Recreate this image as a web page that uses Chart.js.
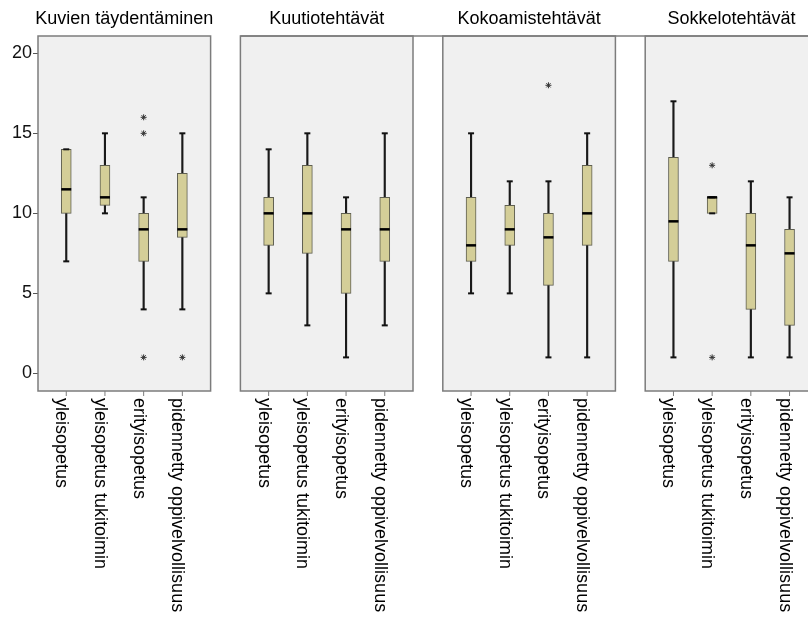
<!DOCTYPE html>
<html>
<head>
<meta charset="utf-8">
<script src="https://cdn.jsdelivr.net/npm/chart.js@4"></script>
<style>
  html, body { margin: 0; padding: 0; background: #ffffff; }
  #wrap { width: 808px; height: 619px; position: relative; }
</style>
</head>
<body>
<div id="wrap"><canvas id="c" width="808" height="619"></canvas></div>
<script>
// ---- data ----
const tasks = ['Kuvien täydentäminen', 'Kuutiotehtävät', 'Kokoamistehtävät', 'Sokkelotehtävät'];
const groups = ['yleisopetus', 'yleisopetus tukitoimin', 'erityisopetus', 'pidennetty oppivelvollisuus'];
const yTicks = [0, 5, 10, 15, 20];

// one row per task, one value per group
const mins    = [[7, 10, 4, 4], [5, 3, 1, 3], [5, 5, 1, 1], [1, 10, 1, 1]];
const q1s     = [[10, 10.5, 7, 8.5], [8, 7.5, 5, 7], [7, 8, 5.5, 8], [7, 10, 4, 3]];
const medians = [[11.5, 11, 9, 9], [10, 10, 9, 9], [8, 9, 8.5, 10], [9.5, 11, 8, 7.5]];
const q3s     = [[14, 13, 10, 12.5], [11, 13, 10, 11], [11, 10.5, 10, 13], [13.5, 11, 10, 9]];
const maxs    = [[14, 15, 11, 15], [14, 15, 11, 15], [15, 12, 12, 15], [17, 11, 12, 11]];
const outliers = [
  [[], [], [16, 15, 1], [1]],
  [[], [], [], []],
  [[], [], [18], []],
  [[], [13, 1], [], []]
];

// ---- layout constants (in x-axis slot units) ----
const PITCH = 5.23;   // distance between panels
const EDGE = 0.73;    // panel margin beyond outer boxes
const X_MIN = -EDGE;
const X_MAX = -EDGE + 770 / 38.7;

const pos = (p, i) => p * PITCH + i;

const boxData = [], whiskerData = [], medianData = [], capData = [], outlierData = [];
tasks.forEach((t, p) => {
  groups.forEach((g, i) => {
    const x = pos(p, i);
    boxData.push({ x, y: [q1s[p][i], q3s[p][i]] });
    whiskerData.push({ x, y: [mins[p][i], maxs[p][i]] });
    medianData.push({ x, y: medians[p][i] });
    capData.push({ x, y: mins[p][i] });
    capData.push({ x, y: maxs[p][i] });
    outliers[p][i].forEach(v => outlierData.push({ x, y: v }));
  });
});

const FONT = "'Liberation Sans', Arial, sans-serif";

const panelPlugin = {
  id: 'panels',
  beforeDatasetsDraw(chart) {
    const { ctx, chartArea, scales: { x } } = chart;
    ctx.save();
    const top = chartArea.top, bottom = chartArea.bottom;
    tasks.forEach((t, p) => {
      const l = x.getPixelForValue(pos(p, 0) - EDGE);
      const r = x.getPixelForValue(pos(p, groups.length - 1) + EDGE);
      ctx.fillStyle = '#f0f0f0';
      ctx.fillRect(l, top, r - l, bottom - top);
      ctx.strokeStyle = '#7c7c7c';
      ctx.lineWidth = 1.5;
      ctx.strokeRect(l, top, r - l, bottom - top);
    });
    // top line continuing across the later gaps
    const l2 = x.getPixelForValue(pos(1, 0) - EDGE);
    ctx.beginPath();
    ctx.moveTo(l2, top);
    ctx.lineTo(chart.width, top);
    ctx.stroke();
    ctx.restore();
  },
  afterDraw(chart) {
    const { ctx, chartArea, scales: { x } } = chart;
    ctx.save();
    // panel titles
    ctx.fillStyle = '#000';
    ctx.font = '18px ' + FONT;
    ctx.textAlign = 'center';
    ctx.textBaseline = 'alphabetic';
    tasks.forEach((t, p) => {
      const l = x.getPixelForValue(pos(p, 0) - EDGE);
      const r = x.getPixelForValue(pos(p, groups.length - 1) + EDGE);
      ctx.fillText(t, (l + r) / 2, 23.5);
    });
    // x tick marks and rotated category labels
    tasks.forEach((t, p) => {
      groups.forEach((g, i) => {
        const px = x.getPixelForValue(pos(p, i));
        ctx.strokeStyle = '#7c7c7c';
        ctx.lineWidth = 1;
        ctx.beginPath();
        ctx.moveTo(px, chartArea.bottom);
        ctx.lineTo(px, chartArea.bottom + 5);
        ctx.stroke();
        ctx.save();
        ctx.translate(px - 10, chartArea.bottom + 7);
        ctx.rotate(Math.PI / 2);
        ctx.textAlign = 'left';
        ctx.textBaseline = 'alphabetic';
        ctx.fillStyle = '#000';
        ctx.fillText(g, 0, 0);
        ctx.restore();
      });
    });
    ctx.restore();
  }
};

new Chart(document.getElementById('c'), {
  type: 'bar',
  data: {
    datasets: [
      {
        type: 'scatter', label: 'medians', data: medianData, order: 0,
        pointStyle: 'line', pointRadius: 5, pointBorderWidth: 2.5,
        borderColor: '#000', backgroundColor: '#000'
      },
      {
        type: 'scatter', label: 'caps', data: capData, order: 1,
        pointStyle: 'line', pointRadius: 3, pointBorderWidth: 2,
        borderColor: '#111', backgroundColor: '#111'
      },
      {
        type: 'scatter', label: 'outliers', data: outlierData, order: 1,
        pointStyle: 'star', pointRadius: 3, pointBorderWidth: 1,
        borderColor: '#333', backgroundColor: '#333'
      },
      {
        label: 'boxes', data: boxData, order: 2, grouped: false,
        barThickness: 10, backgroundColor: '#d4ce98', borderColor: '#5e5e50',
        borderWidth: 1, borderSkipped: false
      },
      {
        label: 'whiskers', data: whiskerData, order: 3, grouped: false,
        barThickness: 1.5, backgroundColor: '#1a1a1a', borderWidth: 0
      }
    ]
  },
  options: {
    responsive: false,
    animation: false,
    events: [],
    layout: { autoPadding: false, padding: { top: 36, bottom: 228, left: 0, right: 0 } },
    plugins: { legend: { display: false }, tooltip: { enabled: false }, title: { display: false } },
    scales: {
      x: {
        type: 'linear', min: X_MIN, max: X_MAX, display: false,
        offset: false, grid: { offset: false }
      },
      y: {
        type: 'linear', min: -1.1, max: 21.08,
        afterBuildTicks: s => { s.ticks = yTicks.map(v => ({ value: v })); },
        afterFit: s => { s.width = 38; },
        border: { display: false },
        grid: { drawOnChartArea: false, drawTicks: true, tickLength: 5, tickColor: '#555' },
        ticks: { color: '#111', font: { family: FONT, size: 18 }, padding: 1 }
      }
    }
  },
  plugins: [panelPlugin]
});
</script>
</body>
</html>
